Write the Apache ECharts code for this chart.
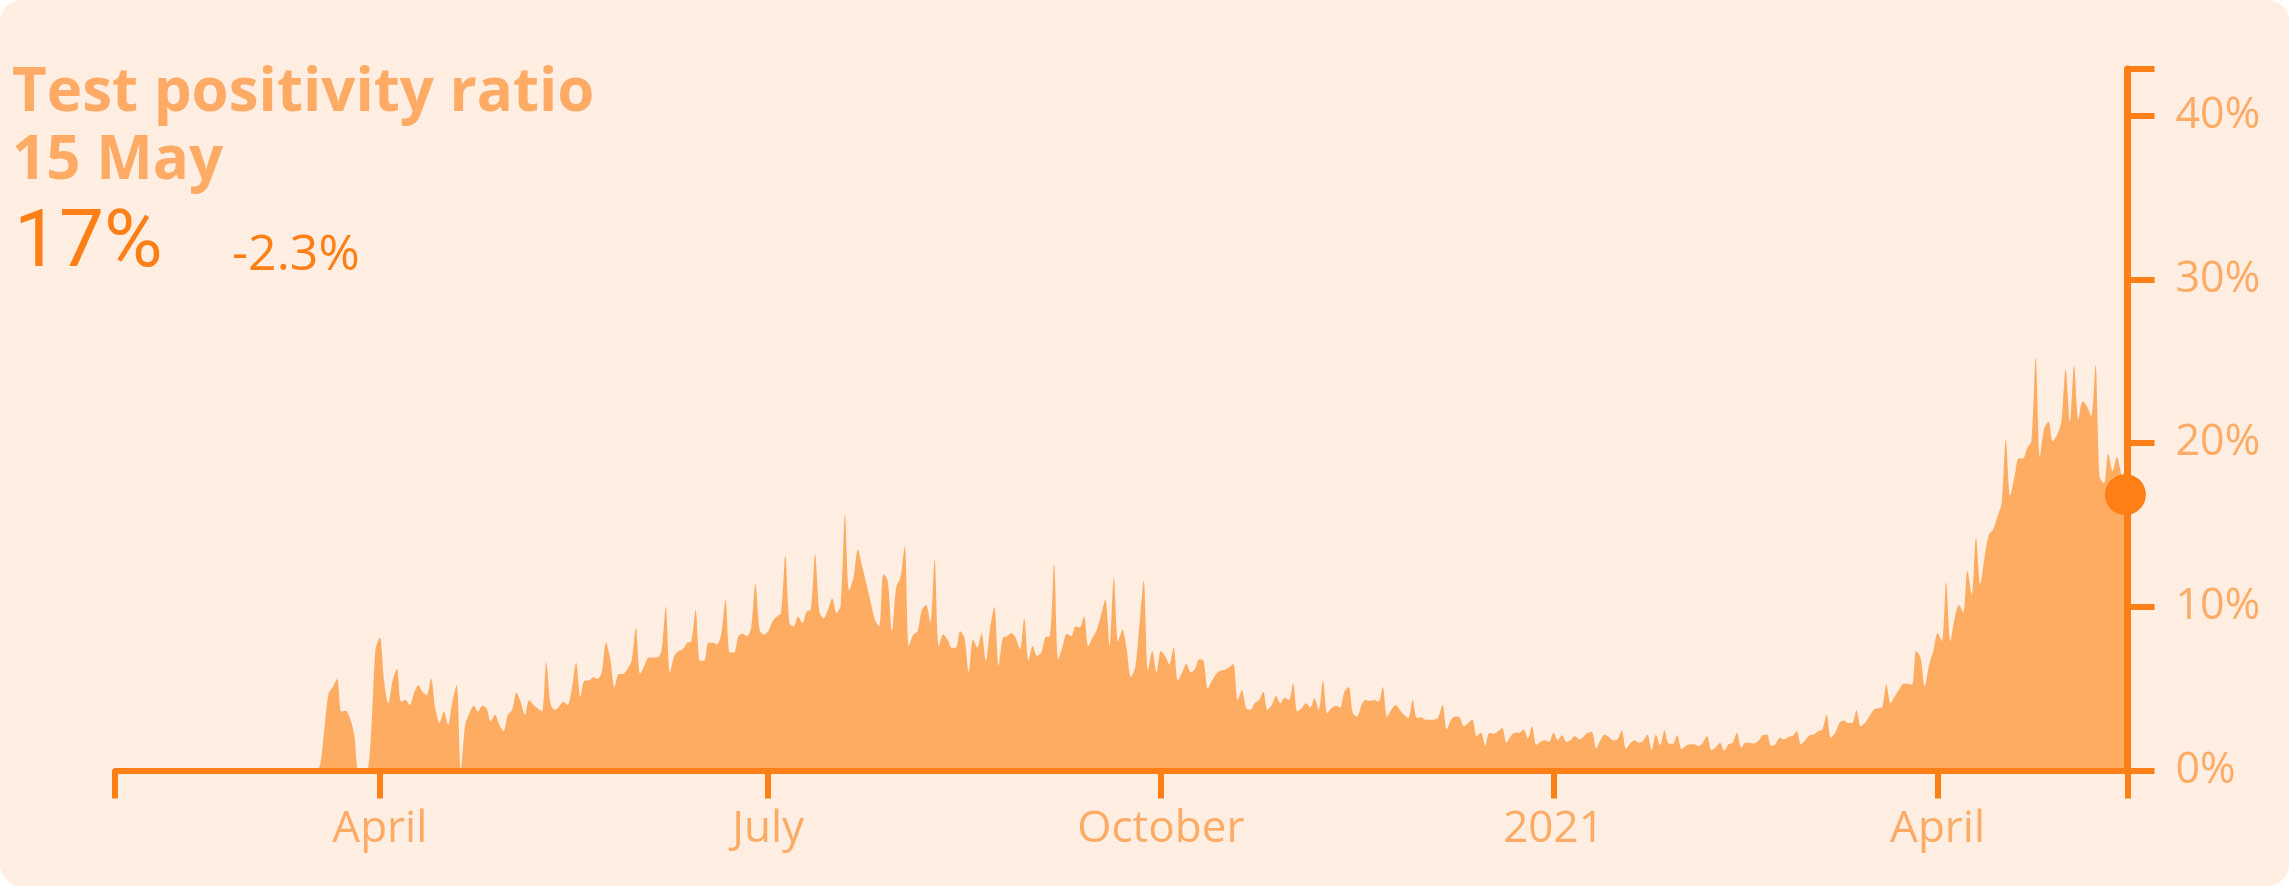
<!DOCTYPE html>
<html>
<head>
<meta charset="utf-8">
<script src="https://cdn.jsdelivr.net/npm/echarts@6/dist/echarts.min.js"></script>
<style>
html,body{margin:0;padding:0;background:#ffffff;}
#chart{width:2289px;height:886px;border-radius:22px;overflow:hidden;background:#FFEEE1;}
</style>
</head>
<body>
<div id="chart"></div>
<script>
// ---- data ----
const axisStart = [2020, 0, 30];      // left end of the time axis
const firstValueDate = [2020, 2, 17]; // date of first daily value
// daily test positivity ratio (%), from 17 Mar 2020 to 15 May 2021
const positivity = [
 0,0.3,2.5,4.7,5.1,5.6,3.6,3.65,3.2,2.2,0,0,0,2.5,7.4,8.1,5.5,4.1,5.5,6.2,
 4.2,4.3,4.0,4.7,5.2,4.8,4.6,5.6,3.8,2.9,3.6,2.8,4.2,5.2,0,2.8,3.5,3.95,3.6,3.95,
 3.8,3.0,3.4,2.8,2.4,3.4,3.7,4.75,4.2,3.4,4.3,4.0,3.8,3.6,6.6,4.1,3.7,3.9,4.2,4.0,
 5.0,6.6,4.5,5.5,5.5,5.7,5.6,6.0,7.8,6.8,5.1,5.9,5.9,6.2,6.7,8.7,5.9,6.4,6.9,6.9,
 6.9,7.3,10.0,6.0,7.0,7.3,7.4,7.8,7.9,9.8,6.7,6.7,7.8,7.8,7.7,8.3,10.4,7.2,7.2,8.2,
 8.35,8.2,8.7,11.4,8.6,8.3,8.5,9.1,9.4,9.6,13.1,9.0,8.8,9.4,9.0,9.7,9.85,13.2,9.7,9.3,
 9.8,10.5,9.6,10.1,15.6,11.0,11.8,13.5,12.5,11.4,10.3,9.2,8.8,12.0,11.6,8.5,11.2,11.8,13.7,7.6,
 8.3,8.5,9.8,10.1,9.0,12.9,7.6,8.3,8.0,7.5,7.5,8.5,8.1,6.0,8.0,7.5,8.35,6.7,8.7,10.0,
 6.4,8.1,8.2,8.4,8.1,7.4,9.3,6.7,7.6,7.0,7.2,8.15,8.2,12.6,6.8,7.6,8.35,8.2,8.8,8.75,
 9.4,7.6,8.1,8.6,9.5,10.45,7.6,11.8,7.9,8.6,7.4,5.7,6.3,8.9,11.6,6.1,7.3,6.0,7.3,7.0,
 6.5,7.5,5.5,6.0,6.5,6.0,6.2,6.8,6.7,5.0,5.5,5.9,6.1,6.15,6.3,6.5,4.3,4.9,3.8,3.7,
 4.1,4.3,4.8,3.7,4.0,4.55,4.1,4.45,4.3,5.3,3.6,3.8,4.1,3.85,4.4,3.7,5.5,3.5,3.8,3.95,
 3.85,4.8,5.1,3.5,3.3,4.0,4.3,4.25,4.3,4.2,5.1,3.3,3.7,4.0,3.7,3.4,3.2,4.3,3.2,3.25,
 3.1,3.1,3.1,3.25,4.0,2.5,3.1,3.3,3.25,2.7,2.9,3.1,2.1,2.3,1.5,2.3,2.25,2.4,2.6,1.7,
 2.1,2.3,2.3,2.5,1.95,2.7,1.55,1.75,1.85,1.75,2.3,1.85,2.15,1.75,1.85,2.1,1.9,2.05,2.3,2.35,
 1.35,1.85,2.2,2.05,1.85,1.9,2.45,1.35,1.65,1.85,1.7,1.8,2.2,1.25,2.2,1.55,2.45,1.65,1.63,2.15,
 1.3,1.5,1.6,1.6,1.5,1.7,2.1,1.25,1.4,1.7,1.2,1.6,1.7,2.3,1.4,1.7,1.7,1.65,1.8,2.15,
 2.2,1.5,1.6,2.0,1.9,2.05,2.1,2.4,1.6,1.85,2.15,2.2,2.4,2.5,3.4,2.0,2.3,2.9,3.05,2.9,
 2.9,3.7,2.7,2.9,3.3,3.7,3.8,3.85,5.25,4.1,4.55,4.95,5.3,5.3,5.25,7.3,6.9,5.15,6.45,7.3,
 8.4,7.9,11.5,7.9,9.3,10.1,9.65,12.2,10.75,14.25,11.4,13.0,14.4,14.7,15.5,16.3,20.2,16.8,17.9,19.05,
 19.05,19.7,20.1,25.2,19.2,20.9,21.3,20.1,20.5,21.3,24.5,21.3,24.75,21.45,22.55,22.25,21.65,24.75,17.9,17.55,
 19.35,18.3,19.15,18.1,16.85
];
const xTickDates = [[2020,3,1],[2020,6,1],[2020,9,1],[2021,0,1],[2021,3,1]];
const xTickLabels = ['April','July','October','2021','April'];
const yTickValues = [0,10,20,30,40];
const yAxisMax = 42.84;
const titleText = 'Test positivity ratio';
const dateText = '15 May';
const latestText = '17%';
const changeText = '-2.3%';

// ---- build (x = days since axisStart) ----
const DAY = 86400000;
const ts = a => Date.UTC(a[0], a[1], a[2]);
const minT = ts(axisStart);
const dayOf = a => Math.round((ts(a) - minT) / DAY);
const firstDay = dayOf(firstValueDate);
const seriesData = positivity.map((v, i) => [firstDay + i, v]);
const lastPoint = seriesData[seriesData.length - 1];
const maxX = lastPoint[0] + 0.5;   // small right padding so the area meets the right axis line
const tickDays = xTickDates.map(dayOf);
const labelMap = {};
tickDays.forEach((d, i) => labelMap[d] = xTickLabels[i]);

const DARK = '#FF7F17';
const LIGHT = '#FFAB66';
const AREA = '#FFAC63';

const chart = echarts.init(document.getElementById('chart'), null, {renderer: 'canvas'});
chart.setOption({
  backgroundColor: '#FFEEE1',
  animation: false,
  grid: {left: 115.2, right: 161.5, top: 69, bottom: 115.5, containLabel: false},
  xAxis: {
    type: 'value', min: 0, max: maxX, z: 3,
    axisLine: {show: true, onZero: false, lineStyle: {color: DARK, width: 6}},
    axisTick: {show: true, length: 28, lineStyle: {color: DARK, width: 6}, customValues: [0].concat(tickDays, [maxX])},
    axisLabel: {show: true, customValues: tickDays, margin: 37, color: LIGHT, fontFamily: '"Open Sans"', fontSize: 44,
      formatter: v => labelMap[v] || ''},
    splitLine: {show: false}
  },
  yAxis: {
    type: 'value', position: 'right', min: 0, max: yAxisMax, interval: 10, z: 3,
    axisLine: {show: true, onZero: false, lineStyle: {color: DARK, width: 7}},
    axisTick: {show: true, length: 27, lineStyle: {color: DARK, width: 6}, customValues: yTickValues.concat([yAxisMax])},
    axisLabel: {show: true, customValues: yTickValues, margin: 48, color: LIGHT, fontFamily: '"Open Sans"', fontSize: 43,
      formatter: v => v + '%'},
    splitLine: {show: false}
  },
  series: [
    {
      type: 'line', data: seriesData, smooth: 0.3, symbol: 'none',
      lineStyle: {width: 0, color: AREA},
      areaStyle: {color: AREA, opacity: 1},
      z: 1
    },
    {
      type: 'scatter', data: [lastPoint], symbolSize: 41, clip: false,
      itemStyle: {color: DARK, opacity: 1}, z: 5
    }
  ],
  graphic: [
    {type: 'text', x: 12, y: 94, z: 10, style: {text: titleText, font: 'bold 60px "Open Sans"', fill: LIGHT, verticalAlign: 'middle', align: 'left'}},
    {type: 'text', x: 12, y: 162, z: 10, style: {text: dateText, font: 'bold 60px "Open Sans"', fill: LIGHT, verticalAlign: 'middle', align: 'left'}},
    {type: 'text', x: 14, y: 246, z: 10, style: {text: latestText, font: '80px Roboto', fill: DARK, verticalAlign: 'middle', align: 'left'}},
    {type: 'text', x: 232, y: 256, z: 10, style: {text: changeText, font: '50px "Open Sans"', fill: DARK, verticalAlign: 'middle', align: 'left'}}
  ]
});
</script>
</body>
</html>
